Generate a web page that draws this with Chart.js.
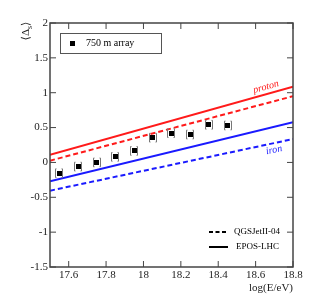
<!DOCTYPE html>
<html lang="en">
<head>
  <meta charset="UTF-8">
  <title>Delta s vs energy</title>
  <script src="https://cdn.jsdelivr.net/npm/chart.js"></script>
  <style>
    body { margin: 0; background: #fff; }
    #wrap { width: 333px; height: 304px; }
  </style>
</head>
<body>
  <div id="wrap"><canvas id="deltaChart" width="333" height="304"></canvas></div>
  <script>
    // data
    const energies = [17.55, 17.65, 17.75, 17.85, 17.95, 18.05, 18.15, 18.25, 18.35, 18.45];
    const deltaS = [-0.155, -0.06, 0.0, 0.08, 0.165, 0.355, 0.42, 0.40, 0.54, 0.53];
    const sysUp = [0.07, 0.07, 0.07, 0.07, 0.07, 0.07, 0.07, 0.07, 0.07, 0.07];
    const sysDown = [0.07, 0.07, 0.07, 0.07, 0.07, 0.07, 0.07, 0.07, 0.07, 0.07];

    const modelE = [17.5, 18.8];
    const eposProton = [0.11, 1.085];
    const qgsProton = [0.025, 0.95];
    const eposIron = [-0.27, 0.575];
    const qgsIron = [-0.405, 0.335];

    const xTicks = [17.6, 17.8, 18.0, 18.2, 18.4, 18.6, 18.8];
    const xLabels = ['17.6', '17.8', '18', '18.2', '18.4', '18.6', '18.8'];
    const yTicks = [-1.5, -1, -0.5, 0, 0.5, 1, 1.5, 2];
    const yLabels = ['-1.5', '-1', '-0.5', '0', '0.5', '1', '1.5', '2'];

    const serif = '"Liberation Serif", "DejaVu Serif", serif';
    const red = '#ff1a1a';
    const blue = '#1a1aff';

    function pts(xs, ys) {
      return xs.map((x, i) => ({ x: x, y: ys[i] }));
    }

    function modelLine(label, ys, color, dashed) {
      return {
        label: label,
        type: 'line',
        data: pts(modelE, ys),
        borderColor: color,
        borderWidth: 2,
        borderDash: dashed ? [5, 3] : [],
        pointRadius: 0,
        fill: false,
        tension: 0
      };
    }

    // frame, inward ticks, brackets, labels
    const decorations = {
      id: 'decorations',
      afterDatasetsDraw(chart) {
        const ctx = chart.ctx;
        const a = chart.chartArea;
        const xs = chart.scales.x;
        const ys = chart.scales.y;
        ctx.save();

        // systematic brackets
        ctx.strokeStyle = '#777';
        ctx.lineWidth = 1;
        energies.forEach((e, i) => {
          const px = Math.round(xs.getPixelForValue(e));
          const top = ys.getPixelForValue(deltaS[i] + sysUp[i]);
          const bot = ys.getPixelForValue(deltaS[i] - sysDown[i]);
          const w = 4;
          ctx.beginPath();
          ctx.moveTo(px - w + 1.5, top + 0.5);
          ctx.lineTo(px - w + 0.5, top + 0.5);
          ctx.lineTo(px - w + 0.5, bot - 0.5);
          ctx.lineTo(px - w + 1.5, bot - 0.5);
          ctx.moveTo(px + w - 1.5, top + 0.5);
          ctx.lineTo(px + w - 0.5, top + 0.5);
          ctx.lineTo(px + w - 0.5, bot - 0.5);
          ctx.lineTo(px + w - 1.5, bot - 0.5);
          ctx.stroke();
        });

        // data squares on top
        ctx.fillStyle = '#000';
        energies.forEach((e, i) => {
          const px = xs.getPixelForValue(e);
          const py = ys.getPixelForValue(deltaS[i]);
          ctx.fillRect(Math.round(px - 2.5), Math.round(py - 2.5), 5, 5);
        });

        // frame
        ctx.strokeStyle = '#444';
        ctx.lineWidth = 1.5;
        ctx.strokeRect(a.left, a.top, a.right - a.left, a.bottom - a.top);

        // inward ticks
        ctx.lineWidth = 1;
        ctx.beginPath();
        xTicks.forEach(v => {
          const px = xs.getPixelForValue(v);
          ctx.moveTo(px, a.bottom); ctx.lineTo(px, a.bottom - 6);
          ctx.moveTo(px, a.top); ctx.lineTo(px, a.top + 6);
        });
        yTicks.forEach(v => {
          const py = ys.getPixelForValue(v);
          ctx.moveTo(a.left, py); ctx.lineTo(a.left + 6, py);
          ctx.moveTo(a.right, py); ctx.lineTo(a.right - 6, py);
        });
        ctx.stroke();

        // upper-left legend
        ctx.strokeStyle = '#555';
        ctx.lineWidth = 1;
        ctx.strokeRect(60.5, 33.5, 101, 20);
        ctx.fillStyle = '#000';
        ctx.fillRect(70, 41, 5, 5);
        ctx.font = '10px ' + serif;
        ctx.textAlign = 'left';
        ctx.textBaseline = 'middle';
        ctx.fillText('750 m array', 86, 43.5);

        // lower-right legend
        ctx.strokeStyle = '#000';
        ctx.lineWidth = 2;
        ctx.setLineDash([4, 2.5]);
        ctx.beginPath();
        ctx.moveTo(209, 232); ctx.lineTo(228, 232);
        ctx.stroke();
        ctx.setLineDash([]);
        ctx.beginPath();
        ctx.moveTo(209, 247); ctx.lineTo(228, 247);
        ctx.stroke();
        ctx.font = '9px ' + serif;
        ctx.fillText('QGSJetII-04', 234, 232);
        ctx.fillText('EPOS-LHC', 236, 247);

        // curve labels
        ctx.font = 'italic 10px ' + serif;
        ctx.textAlign = 'center';
        ctx.fillStyle = red;
        ctx.save();
        ctx.translate(266, 87);
        ctx.rotate(-15.5 * Math.PI / 180);
        ctx.fillText('proton', 0, 0);
        ctx.restore();
        ctx.fillStyle = blue;
        ctx.save();
        ctx.translate(274, 150);
        ctx.rotate(-12 * Math.PI / 180);
        ctx.fillText('iron', 0, 0);
        ctx.restore();

        // axis titles
        ctx.fillStyle = '#222';
        ctx.font = '11px ' + serif;
        ctx.textAlign = 'right';
        ctx.textBaseline = 'alphabetic';
        ctx.fillText('log(E/eV)', 293, 291);

        ctx.save();
        ctx.translate(29, 31);
        ctx.rotate(-Math.PI / 2);
        ctx.textAlign = 'left';
        ctx.font = '11px ' + serif;
        const w1 = ctx.measureText('\u27E8\u0394').width;
        ctx.font = '8px ' + serif;
        const w2 = ctx.measureText('s').width;
        ctx.font = '11px ' + serif;
        const w3 = ctx.measureText('\u27E9').width;
        let x0 = -(w1 + w2 + w3) / 2;
        ctx.fillText('\u27E8\u0394', x0, 0);
        ctx.font = '8px ' + serif;
        ctx.fillText('s', x0 + w1, 3);
        ctx.font = '11px ' + serif;
        ctx.fillText('\u27E9', x0 + w1 + w2, 0);
        ctx.restore();

        ctx.restore();
      }
    };

    new Chart(document.getElementById('deltaChart').getContext('2d'), {
      type: 'scatter',
      data: {
        datasets: [
          modelLine('EPOS-LHC proton', eposProton, red, false),
          modelLine('QGSJetII-04 proton', qgsProton, red, true),
          modelLine('EPOS-LHC iron', eposIron, blue, false),
          modelLine('QGSJetII-04 iron', qgsIron, blue, true),
          {
            label: '750 m array',
            data: pts(energies, deltaS),
            pointRadius: 0,
            showLine: false
          }
        ]
      },
      options: {
        responsive: false,
        animation: false,
        layout: { padding: { top: 23, right: 40, left: 0, bottom: 0 } },
        plugins: {
          legend: { display: false },
          tooltip: { enabled: false }
        },
        scales: {
          x: {
            type: 'linear',
            min: 17.5,
            max: 18.8,
            afterFit: s => { s.height = 37; },
            afterBuildTicks: s => { s.ticks = xTicks.map(v => ({ value: v })); },
            grid: { display: false, drawTicks: false },
            border: { display: false },
            ticks: {
              padding: 2,
              color: '#222',
              font: { family: serif, size: 11 },
              maxRotation: 0,
              autoSkip: false,
              callback: v => xLabels[xTicks.findIndex(t => Math.abs(t - v) < 1e-6)]
            }
          },
          y: {
            min: -1.5,
            max: 2,
            afterFit: s => { s.width = 50; },
            afterBuildTicks: s => { s.ticks = yTicks.map(v => ({ value: v })); },
            grid: { display: false, drawTicks: false },
            border: { display: false },
            ticks: {
              padding: 2,
              color: '#222',
              font: { family: serif, size: 11 },
              autoSkip: false,
              callback: v => yLabels[yTicks.findIndex(t => Math.abs(t - v) < 1e-6)]
            }
          }
        }
      },
      plugins: [decorations]
    });
  </script>
</body>
</html>
